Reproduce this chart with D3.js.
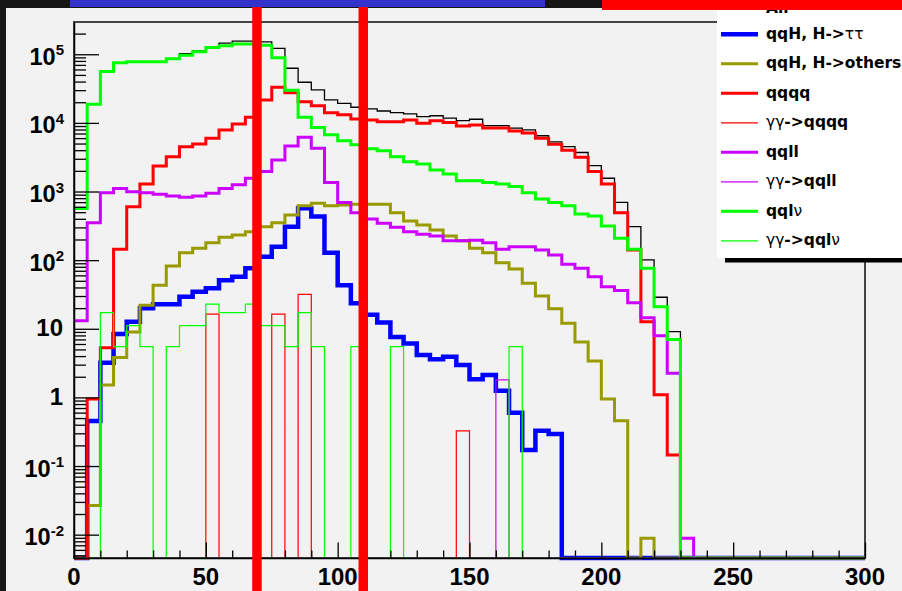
<!DOCTYPE html>
<html>
<head>
<meta charset="utf-8">
<script src="https://cdn.jsdelivr.net/npm/d3@7"></script>
<style>
  html, body { margin: 0; padding: 0; background: #161616; }
  svg { display: block; }
</style>
</head>
<body>
<svg id="chart" width="902" height="591"></svg>
<script>
// Invariant-mass distribution, 5 GeV bins from 0 to 300
const binLowEdges = d3.range(0, 300, 5);

const allEvents = [570, 18700, 56000, 75000, 78000, 78000, 78000, 86000, 102000, 112000,
  129000, 145000, 155000, 155000, 151000, 122000, 62500, 39100, 30200, 21600,
  19300, 16900, 16000, 14900, 14100, 13500, 12300, 12700, 11700, 10800,
  11300, 9100, 9100, 8400, 7900, 6500, 5300, 4500, 3700, 2380,
  1560, 697, 308, 101, 28.8, 9.1, 0.0089, 0, 0, 0,
  0, 0, 0, 0, 0, 0, 0, 0, 0, 0];

const qqHTauTau = [0, 0.454, 3.2, 8.4, 12.7, 19.9, 22.8, 22.8, 29.4, 34.7,
  38.9, 51, 57.5, 76, 112, 157, 307, 570, 431, 128,
  43, 23.5, 16, 12.3, 7.6, 6.1, 4.15, 3.6, 3.9, 2.97,
  1.84, 2.12, 1.25, 0.6, 0.171, 0.328, 0.293, 0, 0, 0,
  0, 0, 0, 0, 0, 0, 0, 0, 0, 0,
  0, 0, 0, 0, 0, 0, 0, 0, 0, 0];

const qqHOthers = [0, 0.0265, 1.52, 3.8, 9.0, 22, 43, 82, 128, 149,
  180, 215, 233, 260, 307, 352, 455, 622, 674, 622,
  637, 655, 655, 655, 492, 372, 326, 276, 225, 192,
  149, 128, 92, 74, 46, 30, 19.5, 12.0, 6.4, 3.4,
  0.95, 0.458, 0, 0.0089, 0, 0, 0, 0, 0, 0,
  0, 0, 0, 0, 0, 0, 0, 0, 0, 0];

const qqqq = [0, 0.95, 5.3, 144, 602, 1290, 2360, 3220, 4500, 4930,
  5970, 7900, 9600, 12100, 21600, 33000, 27600, 20400, 17700, 14100,
  13100, 11400, 11000, 10400, 10400, 11000, 9900, 10700, 10100, 9000,
  9300, 8400, 8400, 7600, 7100, 5970, 4900, 4000, 3150, 1950,
  1290, 492, 141, 12.7, 1.09, 0.145, 0, 0, 0, 0,
  0, 0, 0, 0, 0, 0, 0, 0, 0, 0];

const ggQqqq = [0, 0, 0, 0, 0, 0, 0, 0, 0, 0,
  16.3, 0, 0, 0, 0, 16.3, 0, 31.8, 0, 0,
  0, 0, 0, 0, 0, 0, 0, 0, 0, 0.325,
  0, 0, 0, 0, 0, 0, 0, 0, 0, 0,
  0, 0, 0, 0, 0, 0, 0, 0, 0, 0,
  0, 0, 0, 0, 0, 0, 0, 0, 0, 0];

const qqll = [13.1, 352, 961, 1110, 995, 961, 912, 861, 824, 861,
  944, 1110, 1250, 1560, 1950, 2880, 4600, 6200, 4270, 1350,
  689, 492, 398, 344, 301, 260, 238, 225, 192, 192,
  195, 180, 144, 157, 157, 141, 119, 87, 76, 57.5,
  41, 36, 24, 14.5, 7.9, 2.25, 0.0089, 0, 0, 0,
  0, 0, 0, 0, 0, 0, 0, 0, 0, 0];

const ggQqll = [0, 0, 0, 0, 0, 0, 0, 0, 0, 0,
  0, 0, 0, 0, 0, 0, 0, 0, 0, 0,
  0, 0, 0, 0, 0, 0, 0, 0, 0, 0,
  0, 0, 1.8, 0, 0, 0, 0, 0, 0, 0,
  0, 0, 0, 0, 0, 0, 0, 0, 0, 0,
  0, 0, 0, 0, 0, 0, 0, 0, 0, 0];

const qqlv = [565, 18700, 56000, 75000, 78000, 78000, 78000, 86000, 97000, 109000,
  125000, 133000, 141000, 141000, 135000, 89000, 30000, 12100, 8600, 6700,
  5500, 4800, 4200, 3940, 3200, 2720, 2510, 2060, 1800, 1440,
  1440, 1350, 1290, 1180, 961, 780, 689, 622, 471, 440,
  315, 208, 144, 76, 21, 7.0, 0, 0, 0, 0,
  0, 0, 0, 0, 0, 0, 0, 0, 0, 0];

const ggQqlv = [0, 0, 17.2, 5.5, 11.1, 5.5, 0, 5.5, 11.1, 11.1,
  22.8, 17.2, 17.2, 22.8, 11.1, 11.1, 5.5, 17.2, 5.5, 0,
  0, 5.5, 0, 0, 5.5, 0, 0, 0, 0, 0,
  0, 0, 0, 5.5, 0, 0, 0, 0, 0, 0,
  0, 0, 0, 0, 0, 0, 0, 0, 0, 0,
  0, 0, 0, 0, 0, 0, 0, 0, 0, 0];

// Mass window cut positions (GeV)
const cutLines = [69.4, 109.7];

const xMajorTicks = [0, 50, 100, 150, 200, 250, 300];
const xMinorTicks = d3.range(10, 300, 10).filter(v => v % 50 !== 0);
const yDecades = [-2, -1, 0, 1, 2, 3, 4, 5];

const seriesList = [
  { name: "All", values: allEvents, color: "#000000", width: 1.3 },
  { name: "qqH, H->ττ", values: qqHTauTau, color: "#0000ff", width: 4.5 },
  { name: "qqH, H->others", values: qqHOthers, color: "#999900", width: 3 },
  { name: "qqqq", values: qqqq, color: "#ff0000", width: 3 },
  { name: "γγ->qqqq", values: ggQqqq, color: "#ff0000", width: 1.2 },
  { name: "qqll", values: qqll, color: "#cc00ff", width: 3 },
  { name: "γγ->qqll", values: ggQqll, color: "#cc00ff", width: 1.2 },
  { name: "qqlν", values: qqlv, color: "#00ff00", width: 3 },
  { name: "γγ->qqlν", values: ggQqlv, color: "#00ff00", width: 1.2 }
];

// Legend labels split into bold text and symbol-font (Greek) runs
const legendRuns = [
  [["All", true]],
  [["qqH, H->", true], ["ττ", false]],
  [["qqH, H->others", true]],
  [["qqqq", true]],
  [["γγ", false], ["->qqqq", true]],
  [["qqll", true]],
  [["γγ", false], ["->qqll", true]],
  [["qql", true], ["ν", false]],
  [["γγ", false], ["->qql", true], ["ν", false]]
];

const svg = d3.select("#chart");
const W = 902, H = 591;
const frame = { left: 74, right: 865, top: 22, bottom: 558 };

const yMin = Math.pow(10, -2.34), yMax = Math.pow(10, 5.47);
const x = d3.scaleLinear().domain([0, 300]).range([frame.left, frame.right]);
const y = d3.scaleLog().domain([yMin, yMax]).range([frame.bottom, frame.top]);

// Page background and canvas
svg.append("rect").attr("width", W).attr("height", H).attr("fill", "#161616");
svg.append("rect").attr("x", 6).attr("y", 8).attr("width", W - 6).attr("height", H - 8).attr("fill", "#f2f2f2");

// Histograms drawn as step outlines
const stepLine = d3.line()
  .x(d => x(d[0]))
  .y(d => y(Math.max(d[1], yMin)))
  .curve(d3.curveStepAfter);

const histLayer = svg.append("g");
seriesList.forEach(s => {
  const pts = binLowEdges.map((e, i) => [e, s.values[i]]);
  pts.push([300, s.values[s.values.length - 1]]);
  histLayer.append("path")
    .attr("d", stepLine(pts))
    .attr("fill", "none")
    .attr("stroke", s.color)
    .attr("stroke-width", s.width)
    .attr("stroke-linejoin", "miter");
});

// Frame
svg.append("rect")
  .attr("x", frame.left).attr("y", frame.top)
  .attr("width", frame.right - frame.left).attr("height", frame.bottom - frame.top)
  .attr("fill", "none").attr("stroke", "#444").attr("stroke-width", 2);

// Axes with inward ticks
function styleAxis(g, keepDomain) {
  g.selectAll(".tick line").attr("stroke", "#000").attr("stroke-width", 1.3);
  if (keepDomain) g.select(".domain").attr("stroke", "#000").attr("stroke-width", 1.5);
  else g.select(".domain").remove();
}
svg.append("g").attr("transform", `translate(0,${frame.bottom})`)
  .call(d3.axisBottom(x).tickValues(xMajorTicks).tickSize(-15.5).tickSizeOuter(0).tickFormat(""))
  .call(g => styleAxis(g, true));
svg.append("g").attr("transform", `translate(0,${frame.bottom})`)
  .call(d3.axisBottom(x).tickValues(xMinorTicks).tickSize(-7.5).tickSizeOuter(0).tickFormat(""))
  .call(g => styleAxis(g, false));

const yMinor = [];
for (let k = -3; k <= 5; k++) {
  for (let m = 2; m <= 9; m++) {
    const v = m * Math.pow(10, k);
    if (v > yMin && v < yMax) yMinor.push(v);
  }
}
svg.append("g").attr("transform", `translate(${frame.left},0)`)
  .call(d3.axisLeft(y).tickValues(yDecades.map(k => Math.pow(10, k))).tickSize(-25).tickSizeOuter(0).tickFormat(""))
  .call(g => styleAxis(g, true));
svg.append("g").attr("transform", `translate(${frame.left},0)`)
  .call(d3.axisLeft(y).tickValues(yMinor).tickSize(-12).tickSizeOuter(0).tickFormat(""))
  .call(g => styleAxis(g, false));

// Tick labels
const labelFont = "'Liberation Sans', Arial, sans-serif";
svg.append("g").selectAll("text").data(xMajorTicks).join("text")
  .attr("x", d => x(d)).attr("y", 585)
  .attr("text-anchor", "middle")
  .attr("font-family", labelFont).attr("font-weight", "bold").attr("font-size", 24)
  .attr("fill", "#000")
  .text(d => d);

const yLabels = svg.append("g");
yDecades.forEach(k => {
  const ty = y(Math.pow(10, k));
  if (k === 0 || k === 1) {
    yLabels.append("text")
      .attr("x", 63).attr("y", ty + 7.5)
      .attr("text-anchor", "end")
      .attr("font-family", labelFont).attr("font-weight", "bold").attr("font-size", 24)
      .text(k === 0 ? "1" : "10");
  } else {
    const t = yLabels.append("text")
      .attr("x", 64).attr("y", ty + 10.5)
      .attr("text-anchor", "end")
      .attr("font-family", labelFont).attr("font-weight", "bold").attr("font-size", 23.5);
    t.append("tspan").text("10");
    t.append("tspan").attr("dy", -9.5).attr("font-size", 15).text(String(k).replace("-", "-"));
  }
});

// Mass window cut lines
svg.append("g").selectAll("line").data(cutLines).join("line")
  .attr("x1", d => x(d)).attr("x2", d => x(d))
  .attr("y1", 0).attr("y2", H)
  .attr("stroke", "#ff0000").attr("stroke-width", 9.5);

// Legend box
const legend = svg.append("g");
legend.append("rect").attr("x", 717).attr("y", 0).attr("width", W - 717).attr("height", 258).attr("fill", "#ffffff");
legend.append("rect").attr("x", 725).attr("y", 258).attr("width", W - 725).attr("height", 4.5).attr("fill", "#000");

const legendRowY = seriesList.map((s, i) => i === 0 ? 8.5 : 34.3 + (i - 1) * 29.5);
seriesList.forEach((s, i) => {
  const ly = legendRowY[i];
  legend.append("line")
    .attr("x1", 721).attr("x2", 758).attr("y1", ly).attr("y2", ly)
    .attr("stroke", s.color).attr("stroke-width", s.width);
  const t = legend.append("text")
    .attr("x", 766).attr("y", i === 0 ? 12.5 : ly + 4.5)
    .attr("font-family", "'DejaVu Sans', sans-serif").attr("font-size", 15.5)
    .attr("fill", "#000");
  legendRuns[i].forEach(([txt, bold]) => {
    t.append("tspan").attr("font-weight", bold ? "bold" : "normal").text(txt);
  });
});

// Coloured bars along the top edge
svg.append("rect").attr("x", 70).attr("y", 0).attr("width", 475).attr("height", 7).attr("fill", "#3333cc");
svg.append("rect").attr("x", 602).attr("y", 0).attr("width", W - 602).attr("height", 10).attr("fill", "#ff0000");
</script>
</body>
</html>
